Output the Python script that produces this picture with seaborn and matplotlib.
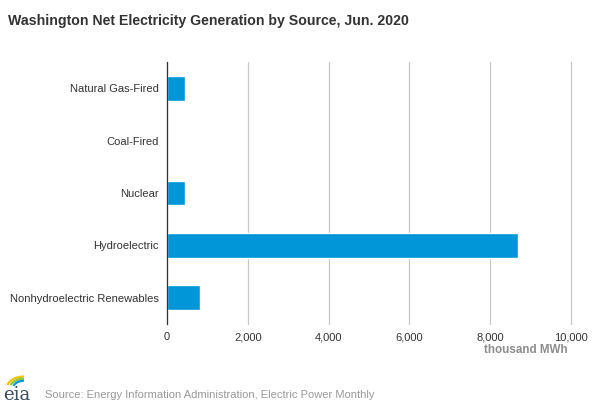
import numpy as np
import pandas as pd
import matplotlib
matplotlib.use("Agg")
import matplotlib.pyplot as plt
import seaborn as sns
from matplotlib.patches import Arc

# values (thousand MWh)
sources = ["Natural Gas-Fired", "Coal-Fired", "Nuclear", "Hydroelectric",
           "Nonhydroelectric Renewables"]
generation = [455, 0, 437, 8680, 810]
x_ticks = [0, 2000, 4000, 6000, 8000, 10000]

df = pd.DataFrame({"source": sources, "generation": generation})

sns.set_style("white")
plt.rcParams["font.family"] = ["Liberation Sans", "DejaVu Sans"]

fig = plt.figure(figsize=(6.12, 4.08), dpi=100)
ax = fig.add_axes([167 / 612, 84 / 408, 404 / 612, 262 / 408])

sns.barplot(data=df, x="generation", y="source", orient="h", color="#0096d7",
            width=0.47, saturation=1, ax=ax)

ax.set_xlim(0, 10000)
ax.set_ylim(len(sources) - 0.5, -0.5)
ax.set_xticks(x_ticks)
ax.set_xticklabels([f"{v:,}" for v in x_ticks], fontsize=8, color="#333333")
ax.xaxis.grid(True, color="#c8c8c8", linewidth=0.9)
for gl in ax.xaxis.get_gridlines():
    gl.set_clip_on(False)
ax.set_axisbelow(True)
ax.tick_params(axis="x", length=0, pad=6)

# category separators as y ticks
ax.set_yticks(np.arange(len(sources)))
ax.set_yticklabels(sources, fontsize=8, color="#333333")
ax.tick_params(axis="y", length=0, pad=6)
ax.set_yticks(np.arange(-0.5, len(sources)), minor=True)
ax.tick_params(axis="y", which="minor", length=4, width=0.9, color="#333333")

for side in ["top", "right", "bottom"]:
    ax.spines[side].set_visible(False)
ax.spines["left"].set_color("#333333")
ax.spines["left"].set_linewidth(0.9)
ax.set_xlabel("")
ax.set_ylabel("")

fig.text(8 / 612, 1 - 21 / 408, "Washington Net Electricity Generation by Source, Jun. 2020",
         fontsize=10.2, fontweight="bold", color="#333333", va="center", ha="left")
fig.text(568 / 612, 1 - 350 / 408, "thousand MWh", fontsize=8.4, fontweight="bold",
         color="#8c8c8c", ha="right", va="center")
fig.text(45 / 612, 1 - 395 / 408, "Source: Energy Information Administration, Electric Power Monthly",
         fontsize=8, color="#999999", ha="left", va="center")

# small eia logo
fig.text(3 / 612, 1 - 395 / 408, "eia", family="DejaVu Serif", fontsize=13,
         color="#3a4a5a", ha="left", va="center")
logo = fig.add_axes([6 / 612, 1 - 388 / 408, 24 / 612, 13 / 408])
logo.set_xlim(0, 1)
logo.set_ylim(0, 1)
logo.axis("off")
for r, col in [(0.55, "#f5c400"), (0.45, "#8dc63f"), (0.35, "#0096d7")]:
    logo.add_patch(Arc((0.75, 0.0), 2 * r * 1.3, 2 * r * 1.6, theta1=90, theta2=160,
                       color=col, linewidth=1.6))

fig.savefig("out.png", dpi=100)
